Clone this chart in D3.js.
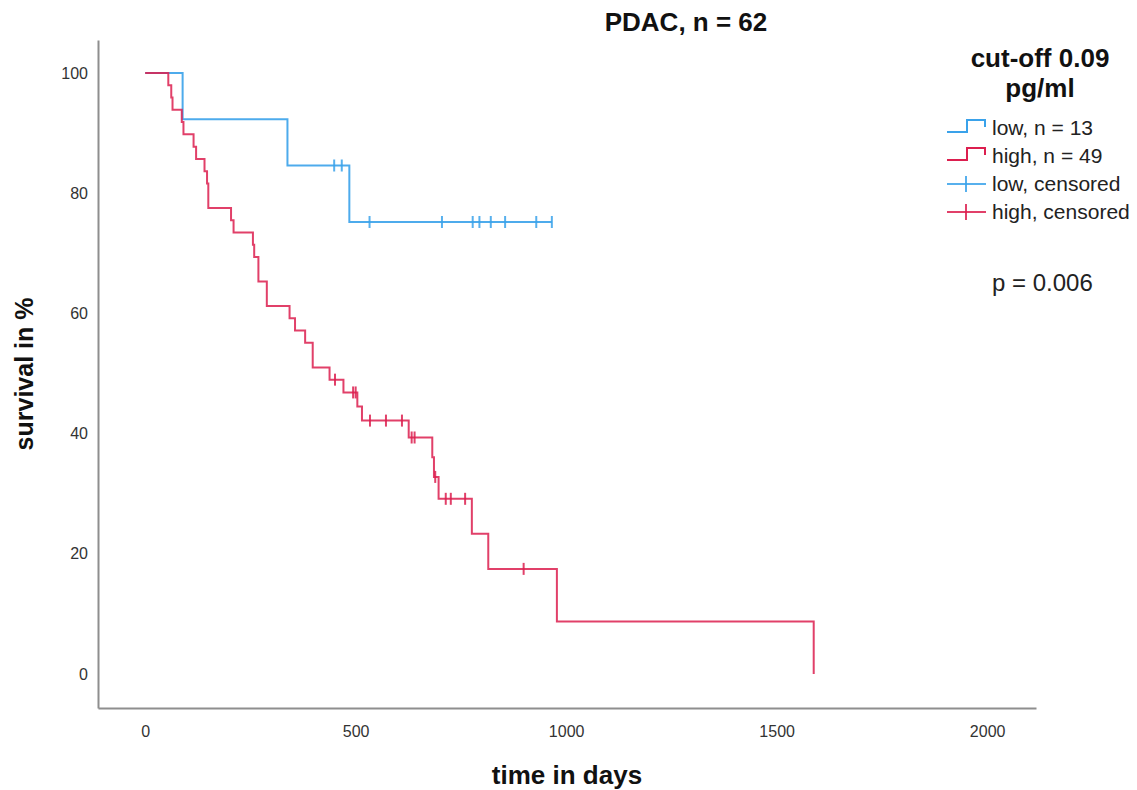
<!DOCTYPE html>
<html>
<head>
<meta charset="utf-8">
<script src="https://cdn.jsdelivr.net/npm/d3@7"></script>
<style>
  body { margin: 0; background: #fff; }
  svg { font-family: "Liberation Sans", Arial, sans-serif; }
</style>
</head>
<body>
<svg id="chart" width="1137" height="790"></svg>
<script>
// Survival times (days) and status (1 = death, 0 = censored) per group
const lowTimes  = [89, 338, 449, 467, 485, 533, 705, 778, 794, 821, 855, 929, 966];
const lowStatus = [1, 1, 0, 0, 1, 0, 0, 0, 0, 0, 0, 0, 0];

const highTimes = [55, 62, 65, 87, 91, 115, 121, 141, 147, 150, 150, 204, 210, 256, 259,
                   269, 269, 289, 289, 343, 356, 380, 398, 398, 438, 451, 471, 494, 500,
                   504, 515, 534, 572, 610, 626, 633, 640, 682, 686, 689, 697, 714, 726,
                   760, 776, 815, 899, 978, 1588];
const highStatus = [1, 1, 1, 1, 1, 1, 1, 1, 1, 1, 1, 1, 1, 1, 1,
                    1, 1, 1, 1, 1, 1, 1, 1, 1, 1, 0, 1, 0, 0,
                    1, 1, 0, 0, 0, 1, 0, 0, 1, 1, 0, 1, 0, 0,
                    0, 1, 1, 0, 1, 1];

const groupNames  = ["low", "high"];
const groupColors = ["#3aa2ea", "#dc1f4f"];
const xTicks = [0, 500, 1000, 1500, 2000];
const yTicks = [0, 20, 40, 60, 80, 100];

// Kaplan-Meier estimate: step points plus censored marks
function kaplanMeier(times, status) {
  const rows = times.map((t, i) => ({ t, e: status[i] })).sort((a, b) => a.t - b.t);
  let atRisk = rows.length, s = 100;
  const steps = [[0, 100]], censored = [];
  const uniq = Array.from(new Set(rows.map(r => r.t)));
  uniq.forEach(t => {
    const here = rows.filter(r => r.t === t);
    const d = here.filter(r => r.e === 1).length;
    if (d > 0) { s = s * (1 - d / atRisk); steps.push([t, s]); }
    here.filter(r => r.e === 0).forEach(() => censored.push([t, s]));
    atRisk -= here.length;
  });
  const last = rows[rows.length - 1].t;
  if (steps[steps.length - 1][0] !== last) steps.push([last, s]);
  return { steps, censored };
}

const groups = [kaplanMeier(lowTimes, lowStatus), kaplanMeier(highTimes, highStatus)];

const svg = d3.select("#chart");
const x = d3.scaleLinear().domain([-112, 2116]).range([98, 1036]);
const y = d3.scaleLinear().domain([-5.66, 105.5]).range([708, 40]);

// axes: plain grey lines, no tick marks
const xAxis = svg.append("g").attr("transform", "translate(0,708)")
  .call(d3.axisBottom(x).tickValues(xTicks).tickFormat(d3.format("d"))
    .tickSize(0).tickPadding(18));
const yAxis = svg.append("g").attr("transform", "translate(98,0)")
  .call(d3.axisLeft(y).tickValues(yTicks).tickFormat(d3.format("d"))
    .tickSize(0).tickPadding(10));
[xAxis, yAxis].forEach(g => {
  g.select(".domain").attr("stroke", "#8e8e8e").attr("stroke-width", 2);
  g.selectAll("text").attr("font-size", 16).attr("fill", "#333")
    .attr("font-family", "'Liberation Sans', Arial, sans-serif");
});

// survival curves
const line = d3.line().x(d => x(d[0])).y(d => y(d[1])).curve(d3.curveStepAfter);
groups.forEach((g, i) => {
  svg.append("path").datum(g.steps)
    .attr("d", line).attr("fill", "none")
    .attr("stroke", groupColors[i]).attr("stroke-width", 2)
    .attr("stroke-opacity", i === 1 ? 0.85 : 0.9);
  svg.append("g").selectAll("line").data(g.censored).join("line")
    .attr("x1", d => x(d[0])).attr("x2", d => x(d[0]))
    .attr("y1", d => y(d[1]) - 6).attr("y2", d => y(d[1]) + 6)
    .attr("stroke", groupColors[i]).attr("stroke-width", 2)
    .attr("stroke-opacity", 0.85);
});

// titles
svg.append("text").attr("x", 686).attr("y", 31).attr("text-anchor", "middle")
  .attr("font-size", 26).attr("font-weight", "bold").attr("fill", "#111")
  .text("PDAC, n = 62");
svg.append("text").attr("x", 567).attr("y", 784).attr("text-anchor", "middle")
  .attr("font-size", 26).attr("font-weight", "bold").attr("fill", "#111")
  .text("time in days");
svg.append("text").attr("transform", "translate(33,374) rotate(-90)")
  .attr("text-anchor", "middle")
  .attr("font-size", 25).attr("font-weight", "bold").attr("fill", "#111")
  .text("survival in %");

// legend
const lg = svg.append("g");
lg.append("text").attr("x", 1040).attr("y", 67).attr("text-anchor", "middle")
  .attr("font-size", 26).attr("font-weight", "bold").attr("fill", "#111")
  .text("cut-off 0.09");
lg.append("text").attr("x", 1040).attr("y", 97).attr("text-anchor", "middle")
  .attr("font-size", 26).attr("font-weight", "bold").attr("fill", "#111")
  .text("pg/ml");

const legendRows = [
  { label: `${groupNames[0]}, n = ${lowTimes.length}`, color: groupColors[0], kind: "step" },
  { label: `${groupNames[1]}, n = ${highTimes.length}`, color: groupColors[1], kind: "step" },
  { label: `${groupNames[0]}, censored`, color: groupColors[0], kind: "cens" },
  { label: `${groupNames[1]}, censored`, color: groupColors[1], kind: "cens" }
];
legendRows.forEach((r, i) => {
  const cy = 128 + i * 28;
  if (r.kind === "step") {
    lg.append("path")
      .attr("d", `M947,${cy + 4}H967V${cy - 8}H985V${cy - 1}`)
      .attr("fill", "none").attr("stroke", r.color).attr("stroke-width", 2);
  } else {
    lg.append("line").attr("x1", 947).attr("x2", 986).attr("y1", cy).attr("y2", cy)
      .attr("stroke", r.color).attr("stroke-width", 2).attr("stroke-opacity", 0.85);
    lg.append("line").attr("x1", 966).attr("x2", 966).attr("y1", cy - 8).attr("y2", cy + 8)
      .attr("stroke", r.color).attr("stroke-width", 2).attr("stroke-opacity", 0.85);
  }
  lg.append("text").attr("x", 992).attr("y", cy + 7)
    .attr("font-size", 21).attr("fill", "#222").text(r.label);
});

svg.append("text").attr("x", 992).attr("y", 291)
  .attr("font-size", 24).attr("fill", "#222").text("p = 0.006");
</script>
</body>
</html>
